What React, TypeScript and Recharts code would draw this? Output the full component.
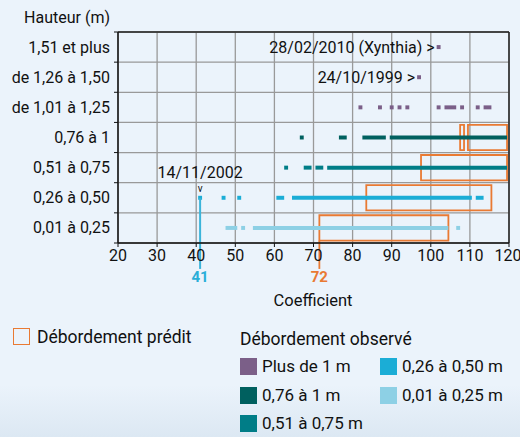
import React from 'react';
import {
  ComposedChart,
  XAxis,
  YAxis,
  CartesianGrid,
  ReferenceArea,
  ReferenceLine,
  ReferenceDot,
} from 'recharts';

const rowLabels = [
  '0,01 à 0,25',
  '0,26 à 0,50',
  '0,51 à 0,75',
  '0,76 à 1',
  'de 1,01 à 1,25',
  'de 1,26 à 1,50',
  '1,51  et plus',
];
const xTicks = [20, 30, 40, 50, 60, 70, 80, 90, 100, 110, 120];
const yTicks = [0, 1, 2, 3, 4, 5, 6, 7];

// observed overflow, runs of coefficients [from, to] per height class
const obs001_025 = [[48, 50], [52, 52], [55, 104], [107, 107]];
const obs026_050 = [[41, 41], [47, 47], [51, 51], [61, 62], [65, 110], [112, 113]];
const obs051_075 = [[63, 63], [68, 69], [71, 72], [74, 119]];
const obs076_1 = [[67, 67], [77, 78], [83, 88], [90, 119]];
const obs101_125 = [[82, 82], [87, 87], [90, 90], [92, 92], [94, 94], [102, 102], [104, 106], [108, 108], [112, 112], [114, 115]];
const obs126_150 = [[97, 97]];
const obs151 = [[102, 102]];

// predicted overflow boxes
const predictedRows = [0, 1, 2, 3, 3];
const predictedFrom = [72, 84, 98, 108, 110];
const predictedTo = [104, 115, 119, 108, 119];

const notes = [
  { row: 6, coef: 102, text: '28/02/2010 (Xynthia) >' },
  { row: 5, coef: 97, text: '24/10/1999 >' },
];

const PURPLE = '#7b5f88';
const DARK_TEAL = '#00605f';
const TEAL = '#007d87';
const BLUE = '#1badd6';
const LIGHT_BLUE = '#8dd0e5';
const ORANGE = '#e97a33';
const INK = '#111';
const FONT = 'Roboto, "Noto Sans", sans-serif';

const obsClasses = [
  { row: 0, color: LIGHT_BLUE, runs: obs001_025 },
  { row: 1, color: BLUE, runs: obs026_050 },
  { row: 2, color: TEAL, runs: obs051_075 },
  { row: 3, color: DARK_TEAL, runs: obs076_1 },
  { row: 4, color: PURPLE, runs: obs101_125 },
  { row: 5, color: PURPLE, runs: obs126_150 },
  { row: 6, color: PURPLE, runs: obs151 },
];

const CHART_H = 310;
const MARGIN = { top: 32, right: 11, bottom: 37, left: 0 };
const X_AXIS_H = 30;
const ROW_HALF = (CHART_H - MARGIN.top - MARGIN.bottom - X_AXIS_H) / rowLabels.length / 2;
const DOT_H = 0.066;

const YTick = (props: any) => {
  const { x, y, payload } = props;
  const v = payload.value;
  if (v >= rowLabels.length) return null;
  return (
    <text x={x} y={y - ROW_HALF} textAnchor="end" dominantBaseline="central"
      fill={INK} fontSize={16} fontFamily={FONT}>
      {rowLabels[v]}
    </text>
  );
};

const Legend = () => {
  const sw = (left: number, top: number, color: string, label: string) => (
    <div key={label} style={{ position: 'absolute', left, top, display: 'flex', alignItems: 'center' }}>
      <div style={{ width: 17, height: 17, background: color }} />
      <span style={{ marginLeft: 5, fontSize: 17, lineHeight: '17px', whiteSpace: 'nowrap' }}>{label}</span>
    </div>
  );
  return (
    <>
      <div style={{ position: 'absolute', left: 13, top: 328, width: 15, height: 15, border: `1.5px solid ${ORANGE}` }} />
      <div style={{ position: 'absolute', left: 37, top: 327, fontSize: 17.5, lineHeight: '20px', whiteSpace: 'nowrap' }}>Débordement prédit</div>
      <div style={{ position: 'absolute', left: 240, top: 329, fontSize: 17.5, lineHeight: '20px', whiteSpace: 'nowrap' }}>Débordement observé</div>
      {sw(240, 358, PURPLE, 'Plus de 1 m')}
      {sw(380, 358, BLUE, '0,26 à 0,50 m')}
      {sw(240, 387, DARK_TEAL, '0,76 à 1 m')}
      {sw(380, 387, LIGHT_BLUE, '0,01 à 0,25 m')}
      {sw(240, 415, TEAL, '0,51 à 0,75 m')}
    </>
  );
};

export default function App() {
  return (
    <div style={{
      position: 'absolute', left: 0, top: 0, width: 520, height: 437, overflow: 'hidden',
      background: 'linear-gradient(180deg, #ebf3fb 0%, #ebf3fb 88%, #dce8f3 100%)',
      fontFamily: FONT, color: INK,
    }}>
      <div style={{ position: 'absolute', right: 410, top: 8, fontSize: 16, lineHeight: '20px', whiteSpace: 'nowrap' }}>
        Hauteur (m)
      </div>
      <ComposedChart width={520} height={CHART_H} margin={MARGIN} data={rowLabels.map((l, i) => ({ row: i + 0.5 }))}>
        <CartesianGrid stroke="#999" strokeWidth={1.3} />
        <XAxis type="number" dataKey="x" domain={[20, 120]} ticks={xTicks} height={X_AXIS_H}
          allowDataOverflow tickSize={4} tickMargin={3}
          axisLine={{ stroke: '#111', strokeWidth: 1.5 }} tickLine={{ stroke: '#111' }}
          tick={{ fill: INK, fontSize: 16, fontFamily: FONT }} />
        <YAxis type="number" dataKey="row" domain={[0, 7]} ticks={yTicks} width={118}
          allowDataOverflow tickSize={4} tickMargin={4}
          axisLine={{ stroke: '#111', strokeWidth: 1.5 }} tickLine={{ stroke: '#111' }}
          tick={<YTick />} />
        <ReferenceLine y={7} stroke="#222" strokeWidth={1.5} />
        <ReferenceLine x={120} stroke="#222" strokeWidth={1.5} />

        {predictedRows.map((row, i) => (
          <ReferenceArea key={`p${i}`} x1={predictedFrom[i] - 0.5} x2={predictedTo[i] + 0.5}
            y1={row + 0.08} y2={row + 0.92} fill="none" stroke={ORANGE} strokeWidth={1.8}
            ifOverflow="visible" />
        ))}

        <ReferenceLine segment={[{ x: predictedFrom[0] - 0.5, y: 0.08 }, { x: predictedFrom[0] - 0.5, y: -0.86 }]}
          stroke={ORANGE} strokeWidth={1.8} ifOverflow="visible"
          label={{ value: String(predictedFrom[0]), position: 'bottom', offset: 2, fill: ORANGE, fontSize: 15, fontWeight: 700, fontFamily: FONT }} />
        <ReferenceLine segment={[{ x: 41, y: 1.5 }, { x: 41, y: -0.86 }]}
          stroke="#3bb4da" strokeWidth={2} ifOverflow="visible"
          label={{ value: '41', position: 'bottom', offset: 2, fill: '#2aaed8', fontSize: 15, fontWeight: 700, fontFamily: FONT }} />

        {obsClasses.flatMap((cls) =>
          cls.runs.map(([a, b], j) => (
            <ReferenceArea key={`o${cls.row}-${j}`} x1={a - 0.5} x2={b + 0.5}
              y1={cls.row + 0.5 - DOT_H} y2={cls.row + 0.5 + DOT_H}
              fill={cls.color} fillOpacity={1} stroke="none" ifOverflow="visible" />
          ))
        )}

        {notes.map((n) => (
          <ReferenceDot key={n.text} x={n.coef - 0.5} y={n.row + 0.5} r={0} fill="none" stroke="none"
            ifOverflow="visible"
            label={{ value: n.text, position: 'left', offset: 2, fill: INK, fontSize: 16, fontFamily: FONT }} />
        ))}
        <ReferenceDot x={41} y={1.5} r={0} fill="none" stroke="none" ifOverflow="visible"
          label={(p: any) => (
            <g>
              <text x={p.viewBox.x} y={p.viewBox.y - 25} textAnchor="middle" dominantBaseline="central"
                fill={INK} fontSize={16} fontFamily={FONT}>14/11/2002</text>
              <text x={p.viewBox.x} y={p.viewBox.y - 9} textAnchor="middle" dominantBaseline="central"
                fill={INK} fontSize={10} fontFamily={FONT}>v</text>
            </g>
          )} />
      </ComposedChart>
      <div style={{ position: 'absolute', left: 313, top: 291, transform: 'translateX(-50%)', fontSize: 16.5, lineHeight: '20px', whiteSpace: 'nowrap' }}>
        Coefficient
      </div>
      <Legend />
    </div>
  );
}
